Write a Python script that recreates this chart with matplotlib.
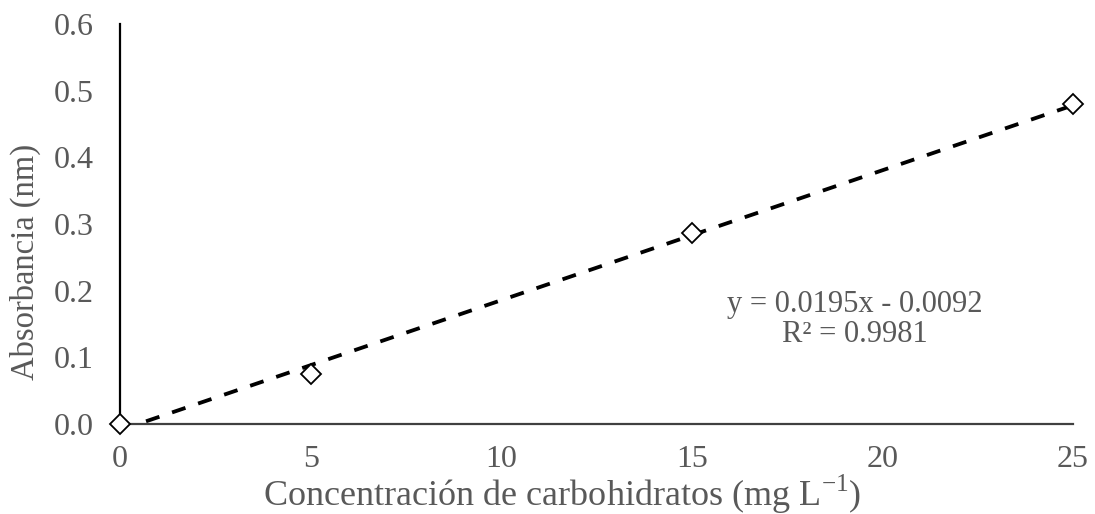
import numpy as np
import matplotlib
matplotlib.use("Agg")
import matplotlib.pyplot as plt

# Curva de calibración: carbohidratos vs absorbancia
conc = [0, 5, 15, 25]                    # mg L-1
absorb = [0.0, 0.075, 0.287, 0.48]       # nm
slope = 0.0195
intercept = -0.0092
r2 = 0.9981

x_ticks = [0, 5, 10, 15, 20, 25]
y_ticks = [0.0, 0.1, 0.2, 0.3, 0.4, 0.5, 0.6]

plt.rcParams.update({
    "font.family": ["Liberation Serif", "DejaVu Serif"],
    "mathtext.fontset": "custom",
    "mathtext.rm": "Liberation Serif",
    "font.size": 23,
})
gray = "#595959"

fig = plt.figure(figsize=(10.95, 5.14), dpi=100)
ax = fig.add_axes([0.1096, 0.175, 0.8704, 0.778])

# línea de tendencia (recortada en y = 0)
xs = np.array([x_ticks[0], x_ticks[-1]], dtype=float)
ax.plot(xs, slope * xs + intercept, color="black", lw=2.75,
        linestyle=(0, (3.7, 3.5)), zorder=2)

# puntos
ax.plot(conc, absorb, linestyle="none", marker="D", markersize=10,
        markerfacecolor="white", markeredgecolor="black",
        markeredgewidth=1.3, zorder=3, clip_on=False)

ax.set_xlim(x_ticks[0], x_ticks[-1])
ax.set_ylim(y_ticks[0], y_ticks[-1])
ax.set_xticks(x_ticks)
ax.set_yticks(y_ticks)
ax.set_yticklabels([f"{v:.1f}" for v in y_ticks])
ax.tick_params(axis="both", length=0, colors=gray, labelsize=23)
ax.tick_params(axis="y", pad=19)
ax.tick_params(axis="x", pad=15)

for s in ["top", "right"]:
    ax.spines[s].set_visible(False)
ax.spines["left"].set_color("black")
ax.spines["left"].set_linewidth(1.6)
ax.spines["bottom"].set_color("#404040")
ax.spines["bottom"].set_linewidth(1.6)

ax.set_xlabel(r"Concentración de carbohidratos (mg L$^{-1}$)", color=gray,
              fontsize=26)
ax.set_ylabel("Absorbancia (nm)", color=gray, fontsize=23.5)
ax.xaxis.set_label_coords(0.4638, -0.122)
ax.yaxis.set_label_coords(-0.083, 0.405)

ax.text(19.28, 0.1575,
        f"y = {slope}x - {abs(intercept)}\nR² = {r2}",
        ha="center", va="center", multialignment="center",
        color=gray, fontsize=22, linespacing=1.05)

fig.savefig("out.png", dpi=100, facecolor="white")
